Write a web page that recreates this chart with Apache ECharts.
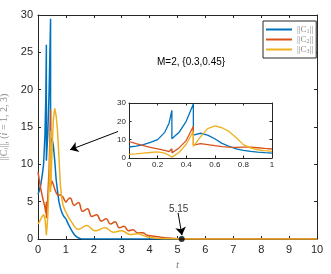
<!DOCTYPE html>
<html><head><meta charset="utf-8">
<script src="https://cdn.jsdelivr.net/npm/echarts@6/dist/echarts.min.js"></script>
<style>html,body{margin:0;padding:0;background:#fff}#c{width:331px;height:274px}</style>
</head><body><div id="c"></div>
<script>
// time samples on [0,1] (duplicates = jumps at t=0.3 and t=0.45)
const tIn = [0,0.05,0.1,0.15,0.2,0.25,0.28,0.3,0.3,0.35,0.4,0.45,0.45,0.5,0.55,0.6,0.65,0.7,0.75,0.8,0.85,0.9,0.95,1.0];
const c1In = [6,6.5,7.3,8.5,10,14,19,26,10.5,14,20,29.5,12.5,13.5,12.5,10.5,8,6.4,5,4.2,3.6,3.2,2.9,2.7];
const c2In = [9,7.8,6.7,5.8,5,4.2,3.5,5,2.8,5.5,9.5,17.3,7,7.8,7.3,6.7,6.2,5.9,5.8,5.9,5.9,5.6,5.2,4.9];
const c3In = [2,2.3,2.7,3,3.3,2.7,1.5,0.5,0.5,3,7.5,14.5,6.3,11.5,16,17.5,16.5,14.5,11,7.3,5.5,4.5,4,3.6];
// tails for t > 1
const tail1T = [1.1,1.2,1.3,1.4,1.5,1.6,10];
const tail1  = [1.9,1.2,0.6,0.25,0.08,0,0];
const tail2T = [1.15,1.3,1.45,1.6,1.77,1.93,2.1,2.27,2.44,2.6,2.76,2.92,3.08,3.25,3.4,3.58,3.75,3.9,4.1,4.4,4.7,5.0,5.15,10];
const tail2  = [5.5,4.5,4.9,3.7,4.05,3.0,3.25,2.4,2.7,2.0,2.3,1.5,1.7,1.1,1.25,0.8,0.85,0.5,0.4,0.25,0.12,0.04,0,0];
const tail3T = [1.2,1.45,1.75,2.05,2.4,2.7,3.0,3.3,3.55,3.9,4.3,4.6,10];
const tail3  = [2.3,1.3,1.8,1.1,1.5,0.9,1.1,0.6,0.7,0.3,0.1,0.02,0];
const names = ['C1','C2','C3'];
const colors = ['#0072BD','#D95319','#EDB120'];
const mainXTicks = [0,10,1];
const mainYTicks = [0,30,5];
const insetXTicks = [0,1,0.2];
const insetYTicks = [0,30,10];
const zeroT = 5.15;

const pairs = (t, v) => t.map((x, i) => [x, v[i]]);
const ins = [c1In, c2In, c3In];
const tails = [[tail1T, tail1],[tail2T, tail2],[tail3T, tail3]];

const axc = '#262626';
function ax(grid, pos, tk, fs, showLab, extra) {
  const main = grid === 0;
  return Object.assign({
    type:'value', gridIndex:grid, position:pos, min:tk[0], max:tk[1], interval:tk[2],
    axisLine:{show:true, onZero:false, lineStyle:{color:axc, width:1}},
    axisTick:{show:true, inside:true, length:main?3:2.5, lineStyle:{color:axc}},
    axisLabel:{show:showLab, color:axc, fontSize:fs, fontFamily:'Liberation Sans', margin:main?5:3},
    splitLine:{show:false}
  }, extra||{});
}
const series = [];
for (let k = 0; k < 3; k++) {
  const head = pairs(tIn, ins[k]);
  series.push({name:names[k], type:'line', xAxisIndex:0, yAxisIndex:0, data:head, symbol:'none',
    lineStyle:{color:colors[k], width:1.5}, itemStyle:{color:colors[k]}, z:2+k});
  const tl = [head[head.length-1]].concat(pairs(tails[k][0], tails[k][1]));
  series.push({type:'line', xAxisIndex:0, yAxisIndex:0, data:tl, symbol:'none', smooth:0.45,
    lineStyle:{color:colors[k], width:1.5}, z:2+k});
}
for (let k = 0; k < 3; k++) {
  series.push({name:names[k], type:'line', xAxisIndex:2, yAxisIndex:2, data:pairs(tIn, ins[k]), symbol:'none',
    lineStyle:{color:colors[k], width:1.3}, itemStyle:{color:colors[k]}, z:12+k});
}
series.push({type:'scatter', xAxisIndex:0, yAxisIndex:0, data:[[zeroT,0]], symbolSize:6,
  itemStyle:{color:'#000'}, z:10,
  label:{show:true, formatter:String(zeroT), position:'top', distance:22, offset:[-3,0], color:'#000', fontSize:10, fontFamily:'Liberation Sans'},
  markLine:{silent:true, symbol:['none','arrow'], symbolSize:8, label:{show:false},
    lineStyle:{color:'#000', width:1, type:'solid'},
    data:[
      [{coord:[2.87,14.4]},{coord:[1.15,11.95]}],
      [{coord:[5.02,3.5]},{coord:[5.16,0.5]}]
    ]}
});

const chart = echarts.init(document.getElementById('c'), null, {renderer:'canvas'});
chart.setOption({
  animation:false,
  backgroundColor:'#fff',
  grid:[
    {left:38, right:14, top:15, bottom:35, show:true, backgroundColor:'#fff', borderWidth:0, outerBoundsMode:'none', containLabel:false},
    {left:129, right:59, top:103, bottom:116, show:true, backgroundColor:'#fff', borderWidth:0, z:10, outerBoundsMode:'none', containLabel:false}
  ],
  xAxis:[
    ax(0,'bottom',mainXTicks,11,true,{name:'t', nameLocation:'middle', nameGap:19,
      nameTextStyle:{color:'#7f7f7f', fontStyle:'italic', fontFamily:'Liberation Serif', fontSize:11}}),
    ax(0,'top',mainXTicks,11,false),
    ax(1,'bottom',insetXTicks,8,true,{z:11}),
    ax(1,'top',insetXTicks,8,false,{z:11})
  ],
  yAxis:[
    ax(0,'left',mainYTicks,11,true,{name:'||C{s|i}||, ({it|i} = 1, 2, 3)', nameLocation:'middle', nameGap:20, nameRotate:90,
      nameTextStyle:{color:'#8a8a8a', fontFamily:'Liberation Serif', fontSize:10,
        rich:{s:{fontSize:7, verticalAlign:'bottom', color:'#8a8a8a', fontFamily:'Liberation Serif', fontStyle:'italic'},
              it:{fontStyle:'italic', color:'#8a8a8a', fontFamily:'Liberation Serif', fontSize:10}}}}),
    ax(0,'right',mainYTicks,11,false),
    ax(1,'left',insetYTicks,8,true,{z:11}),
    ax(1,'right',insetYTicks,8,false,{z:11})
  ],
  legend:{data:names, orient:'vertical', left:263, top:21, padding:[4,3,4,3], itemGap:1,
    icon:'rect', itemWidth:26, itemHeight:2, backgroundColor:'#fff', borderColor:axc, borderWidth:1,
    formatter:n => '||C{s|' + n.slice(1) + '}||',
    textStyle:{color:'#8a8a8a', fontSize:9, fontFamily:'Liberation Serif', lineHeight:9,
      rich:{s:{fontSize:6, verticalAlign:'bottom', color:'#8a8a8a', fontFamily:'Liberation Serif'}}}},
  graphic:[{type:'text', left:157, top:57, z:20,
    style:{text:'M=2, {0.3,0.45}', fill:'#000', fontSize:10, fontFamily:'Liberation Sans'}}],
  series:series
});
</script></body></html>
